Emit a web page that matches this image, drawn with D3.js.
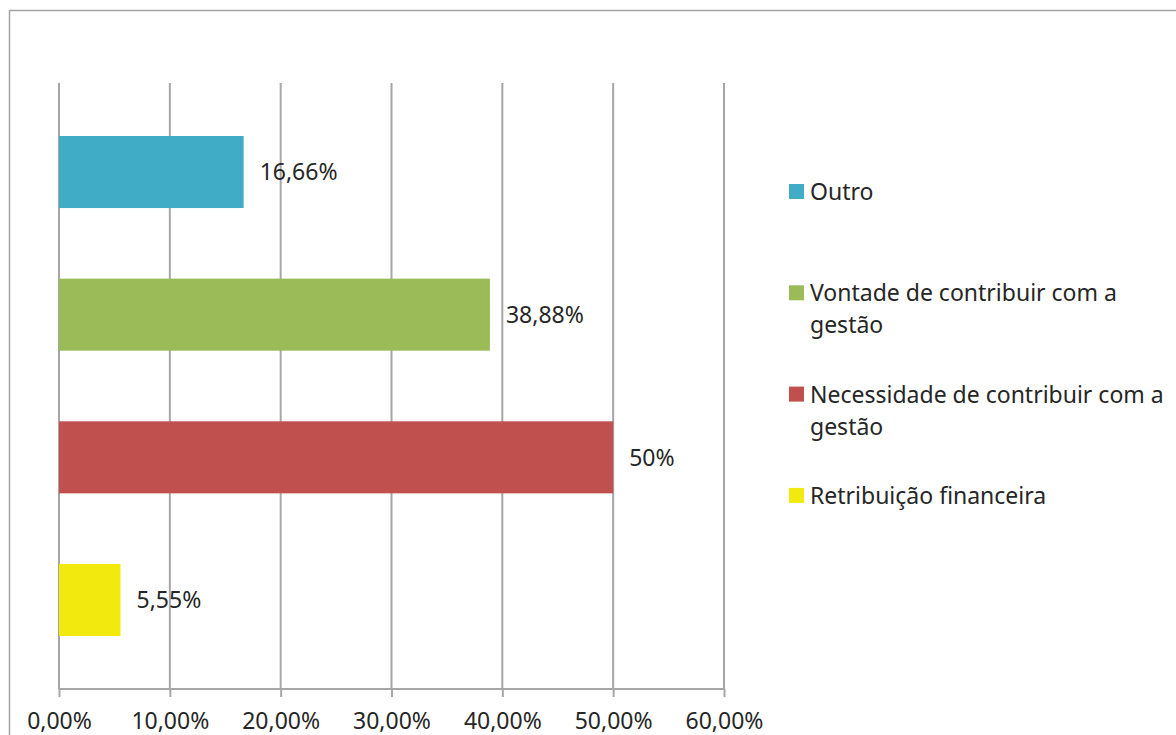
<!DOCTYPE html>
<html>
<head>
<meta charset="utf-8">
<script src="https://cdn.jsdelivr.net/npm/d3@7"></script>
<style>
  html, body { margin: 0; padding: 0; background: #ffffff; }
  svg { display: block; }
  text { font-family: "Noto Sans", "Open Sans", sans-serif; fill: #262626; }
</style>
</head>
<body>
<svg id="chart" width="1176" height="735"></svg>
<script>
// Motivos (top to bottom) and their share of answers
const categories = ["Outro", "Vontade de contribuir com a gestão", "Necessidade de contribuir com a gestão", "Retribuição financeira"];
const values = [0.1666, 0.3888, 0.50, 0.0555];
const valueLabels = ["16,66%", "38,88%", "50%", "5,55%"];
const colors = ["#41ACC6", "#9BBB59", "#C0504D", "#F2E90F"];
const legendLines = [["Outro"], ["Vontade de contribuir com a", "gestão"], ["Necessidade de contribuir com a", "gestão"], ["Retribuição financeira"]];
const tickValues = [0, 0.1, 0.2, 0.3, 0.4, 0.5, 0.6];

const svg = d3.select("#chart");
const gridColor = "#a6a6a6";

// Outer chart frame
svg.append("rect")
  .attr("x", 9.5).attr("y", 10.5)
  .attr("width", 1200).attr("height", 800)
  .attr("fill", "none").attr("stroke", "#a3a3a3").attr("stroke-width", 1.5);

const x = d3.scaleLinear().domain([0, 0.6]).range([59, 724]);
const y = d3.scaleBand().domain(categories).range([83, 689])
  .paddingInner(0.495).paddingOuter(0.3715);

const fmt = v => d3.format(".2f")(v * 100).replace(".", ",") + "%";

// Vertical gridlines
svg.append("g").selectAll("line").data(tickValues).join("line")
  .attr("x1", d => x(d)).attr("x2", d => x(d))
  .attr("y1", 83).attr("y2", 689)
  .attr("stroke", gridColor).attr("stroke-width", 2);

// Bars
svg.append("g").selectAll("rect").data(categories).join("rect")
  .attr("x", x(0))
  .attr("y", d => y(d))
  .attr("width", (d, i) => x(values[i]) - x(0))
  .attr("height", y.bandwidth())
  .attr("fill", (d, i) => colors[i]);

// Value labels
svg.append("g").selectAll("text").data(categories).join("text")
  .attr("x", (d, i) => x(values[i]) + 16)
  .attr("y", d => y(d) + y.bandwidth() / 2)
  .attr("dy", "0.36em")
  .attr("font-size", 23)
  .text((d, i) => valueLabels[i]);

// Horizontal value axis
const axis = d3.axisBottom(x).tickValues(tickValues).tickFormat(fmt).tickSize(8).tickPadding(16);
const gAxis = svg.append("g").attr("transform", "translate(0,689)").call(axis);
gAxis.select(".domain").attr("stroke", gridColor).attr("stroke-width", 2).attr("d", `M${x(0)},0H${x(0.6)}`);
gAxis.selectAll(".tick line").attr("stroke", gridColor).attr("stroke-width", 2);
gAxis.selectAll(".tick text").attr("font-size", 23).attr("fill", "#262626")
  .attr("font-family", "Noto Sans, Open Sans, sans-serif").attr("dy", "0.71em");

// Legend
const legend = svg.append("g").selectAll("g").data(categories).join("g")
  .attr("transform", (d, i) => `translate(789, ${184 + i * 101.3})`);
legend.append("rect")
  .attr("width", 15).attr("height", 15)
  .attr("fill", (d, i) => colors[i]);
legend.append("text")
  .attr("x", 21).attr("y", 16)
  .attr("font-size", 23)
  .selectAll("tspan").data((d, i) => legendLines[i]).join("tspan")
  .attr("x", 21).attr("dy", (d, j) => j === 0 ? 0 : 32)
  .text(d => d);
</script>
</body>
</html>
